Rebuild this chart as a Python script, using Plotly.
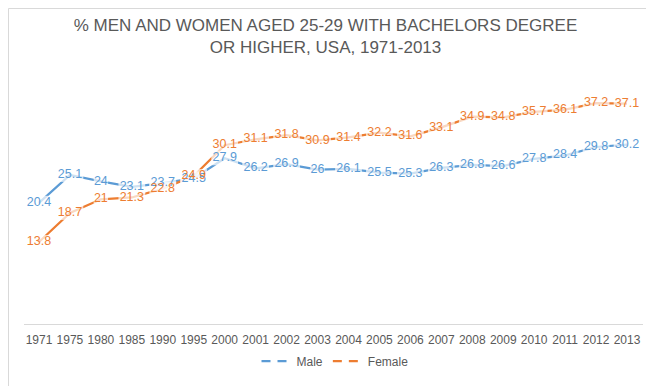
import plotly.graph_objects as go

years = ["1971", "1975", "1980", "1985", "1990", "1995", "2000", "2001", "2002", "2003",
         "2004", "2005", "2006", "2007", "2008", "2009", "2010", "2011", "2012", "2013"]
male = [20.4, 25.1, 24, 23.1, 23.7, 24.5, 27.9, 26.2, 26.9, 26,
        26.1, 25.5, 25.3, 26.3, 26.8, 26.6, 27.8, 28.4, 29.8, 30.2]
female = [13.8, 18.7, 21, 21.3, 22.8, 24.9, 30.1, 31.1, 31.8, 30.9,
          31.4, 32.2, 31.6, 33.1, 34.9, 34.8, 35.7, 36.1, 37.2, 37.1]

BLUE = "#5B9BD5"
ORANGE = "#ED7D31"
GRAY = "#595959"
FONT = "Liberation Sans Narrow, Arial Narrow, Liberation Sans, Arial, sans-serif"
W, H = 654, 386

series = [("Male", male, BLUE), ("Female", female, ORANGE)]

fig = go.Figure()
for name, vals, col in series:
    fig.add_trace(go.Scatter(x=years, y=vals, mode="lines", name=name, showlegend=False,
                             line=dict(color=col, width=2.25)))

# white backing behind each data label (hides the line under the label)
for name, vals, col in series:
    fig.add_trace(go.Scatter(
        x=years, y=vals, mode="markers", showlegend=False, hoverinfo="skip",
        marker=dict(symbol="line-ew", size=[len(f"{v:g}") * 4.4 + 1.5 for v in vals],
                    color="white", line=dict(color="white", width=14)),
    ))

for name, vals, col in series:
    fig.add_trace(go.Scatter(
        x=years, y=vals, mode="text", showlegend=False, hoverinfo="skip",
        text=[f"{v:g}" for v in vals], textposition="middle center",
        textfont=dict(family=FONT, size=12.5, color=col),
    ))

# legend entries drawn in the Excel style (line broken by the label)
for name, vals, col in series:
    fig.add_trace(go.Scatter(x=[None], y=[None], mode="lines", name=name,
                             line=dict(color=col, width=2.25, dash="9px,7px")))


def px(x):
    return x / W


def py(y):
    return 1 - y / H


frame = [
    (649, 654, 386, 4, "#8C8C8C"),
    (4, 654, 386, 381, "#8C8C8C"),
    (649, 651.5, 381, 3, "#555555"),
    (3, 651.5, 383.5, 381, "#555555"),
]
shapes = []
for x0, x1, y0, y1, c in frame:
    shapes.append(dict(type="rect", xref="paper", yref="paper", x0=px(x0), x1=px(x1),
                       y0=py(y0), y1=py(y1), fillcolor=c, line=dict(width=0)))
shapes.append(dict(type="rect", xref="paper", yref="paper", x0=px(0.5), x1=px(648.5),
                   y0=py(380.5), y1=py(0.5), line=dict(color="#D9D9D9", width=1)))

fig.update_layout(
    width=W, height=H,
    margin=dict(l=0, r=0, t=0, b=0),
    paper_bgcolor="white", plot_bgcolor="white",
    font=dict(family=FONT, color=GRAY),
    title=dict(text="% MEN AND WOMEN AGED 25-29 WITH BACHELORS DEGREE<br>OR HIGHER, USA, 1971-2013",
               x=0.4855, xanchor="center", y=py(23), yanchor="middle",
               font=dict(family=FONT, size=17, color=GRAY)),
    xaxis=dict(type="category", range=[-0.5, 19.5], domain=[px(15.5), px(634.5)],
               showline=True, linecolor="#D9D9D9", linewidth=1, showgrid=False,
               ticks="outside", ticklen=5, tickcolor="rgba(0,0,0,0)",
               tickfont=dict(family=FONT, size=12, color=GRAY), fixedrange=True),
    yaxis=dict(range=[0, 40], domain=[py(316), py(78.4)], visible=False, fixedrange=True),
    legend=dict(orientation="h", x=0.5, xanchor="center", y=py(353), yanchor="middle",
                font=dict(family=FONT, size=12, color=GRAY)),
    shapes=shapes,
)

fig.write_html("out.html")
